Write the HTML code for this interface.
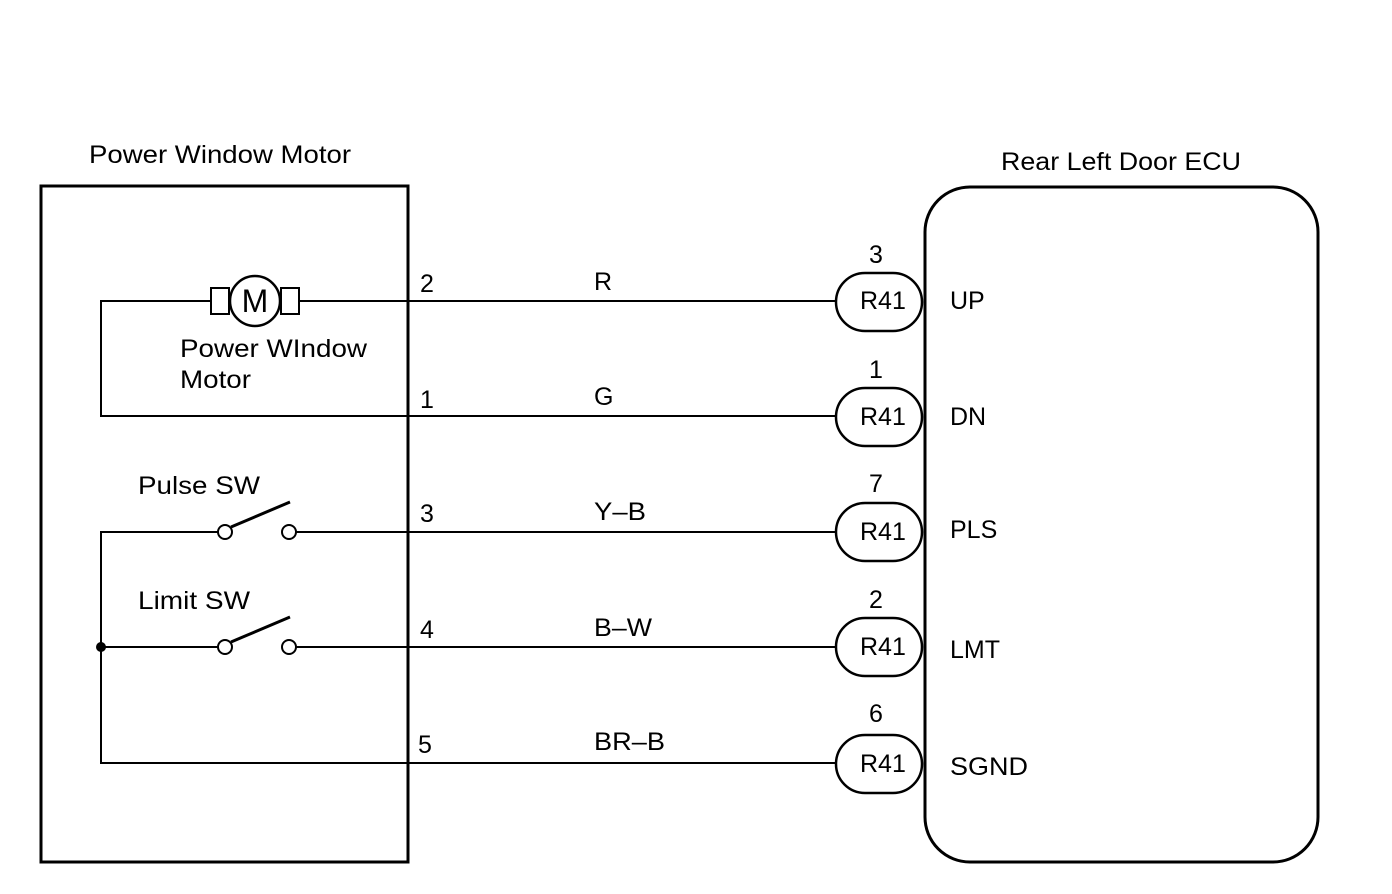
<!DOCTYPE html>
<html><head><style>body{margin:0;background:#fff}svg{display:block}text{font-family:"Liberation Sans",sans-serif;fill:#000}</style></head><body>
<svg width="1392" height="894" viewBox="0 0 1392 894">
<g fill="none" stroke="#000">
<rect x="41" y="186" width="367" height="676" stroke-width="3"/>
<rect x="925" y="187" width="393" height="675" rx="45" stroke-width="3"/>
<g stroke-width="2">
<polyline points="210,301 101,301 101,416 836,416"/>
<line x1="298" y1="301" x2="836" y2="301"/>
<rect x="211" y="288" width="18" height="26"/>
<rect x="281" y="288" width="18" height="26"/>
<polyline points="218,532 101,532 101,763 836,763"/>
<line x1="101" y1="647" x2="218" y2="647"/>
<line x1="296" y1="532" x2="836" y2="532"/>
<line x1="296" y1="647" x2="836" y2="647"/>
<circle cx="225" cy="532" r="7"/><circle cx="289" cy="532" r="7"/>
<circle cx="225" cy="647" r="7"/><circle cx="289" cy="647" r="7"/>
</g>
<circle cx="255" cy="301" r="25" stroke-width="2.5" fill="#fff"/>
<line x1="231" y1="527" x2="290" y2="502" stroke-width="3"/>
<line x1="231" y1="642" x2="290" y2="617" stroke-width="3"/>
<g stroke-width="2.5" fill="#fff">
<rect x="836" y="273" width="86" height="58" rx="29"/>
<rect x="836" y="388" width="86" height="58" rx="29"/>
<rect x="836" y="503" width="86" height="58" rx="29"/>
<rect x="836" y="618" width="86" height="58" rx="29"/>
<rect x="836" y="735" width="86" height="58" rx="29"/>
</g>
</g>
<circle cx="101" cy="647" r="5" fill="#000"/>
<g font-size="25">
<text x="89" y="163" textLength="262" lengthAdjust="spacingAndGlyphs">Power Window Motor</text>
<text x="1001" y="170" textLength="240" lengthAdjust="spacingAndGlyphs">Rear Left Door ECU</text>
<text x="255" y="312" text-anchor="middle" font-size="32">M</text>
<text x="180" y="357" textLength="187" lengthAdjust="spacingAndGlyphs">Power WIndow</text>
<text x="180" y="388" textLength="71" lengthAdjust="spacingAndGlyphs">Motor</text>
<text x="138" y="494" textLength="122" lengthAdjust="spacingAndGlyphs">Pulse SW</text>
<text x="138" y="609" textLength="112" lengthAdjust="spacingAndGlyphs">Limit SW</text>
<text x="420" y="292">2</text><text x="420" y="408">1</text><text x="420" y="522">3</text><text x="420" y="638">4</text><text x="418" y="753">5</text>
<text x="594" y="290">R</text><text x="594" y="405">G</text><text x="594" y="520" textLength="52" lengthAdjust="spacingAndGlyphs">Y–B</text><text x="594" y="636" textLength="58" lengthAdjust="spacingAndGlyphs">B–W</text><text x="594" y="750" textLength="71" lengthAdjust="spacingAndGlyphs">BR–B</text>
<text x="869" y="263">3</text><text x="869" y="378">1</text><text x="869" y="492">7</text><text x="869" y="608">2</text><text x="869" y="722">6</text>
<text x="860" y="309">R41</text><text x="860" y="425">R41</text><text x="860" y="540">R41</text><text x="860" y="655">R41</text><text x="860" y="772">R41</text>
<text x="950" y="309">UP</text><text x="950" y="425">DN</text><text x="950" y="538">PLS</text><text x="950" y="658">LMT</text><text x="950" y="775" textLength="78" lengthAdjust="spacingAndGlyphs">SGND</text>
</g>
</svg>
</body></html>
